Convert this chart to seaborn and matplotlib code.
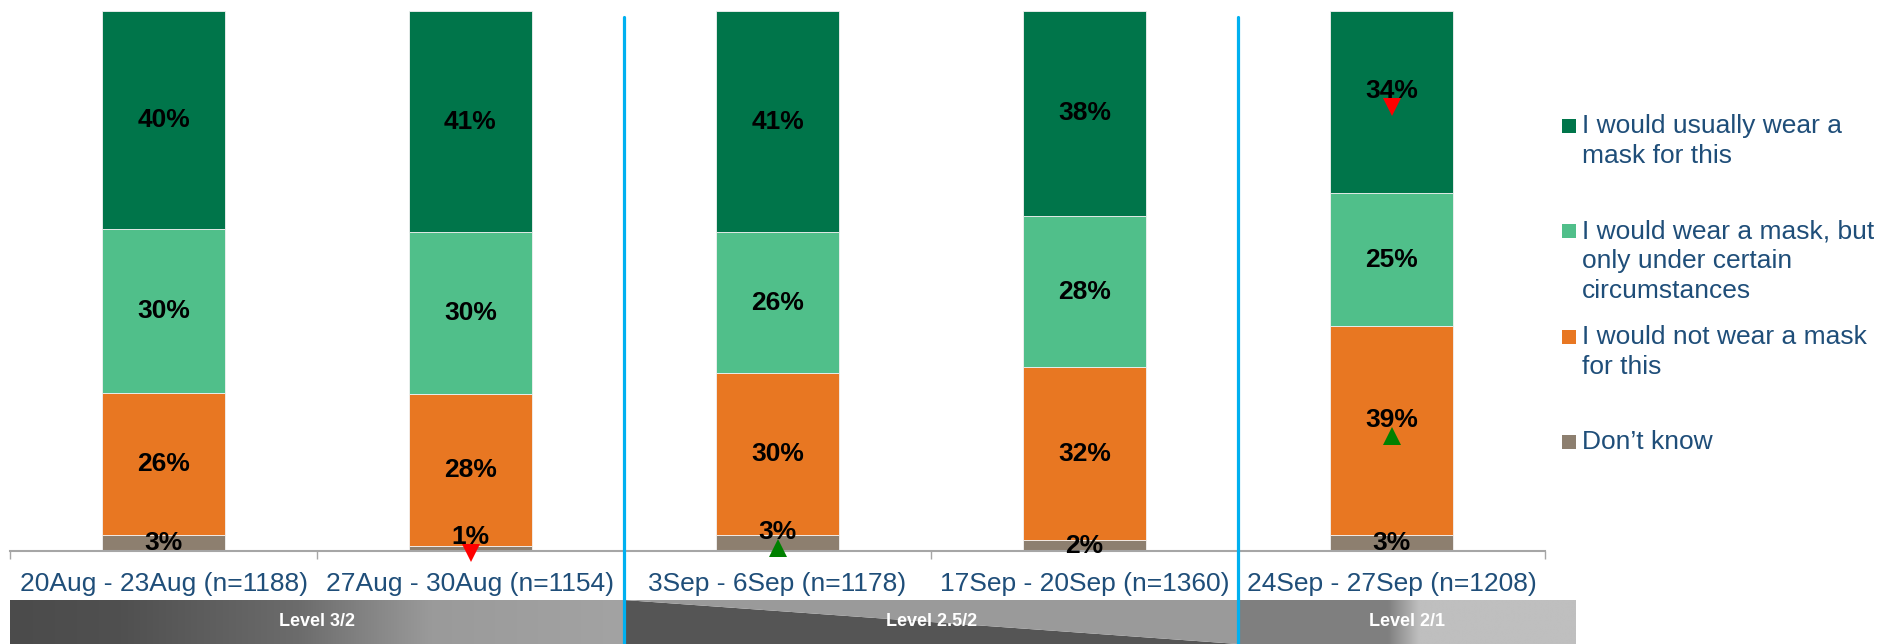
import numpy as np
import pandas as pd
import matplotlib
matplotlib.use("Agg")
import matplotlib.pyplot as plt
import seaborn as sns
from matplotlib.patches import Polygon, Rectangle
from matplotlib.lines import Line2D
from matplotlib import transforms
from matplotlib.colors import to_rgb

# ---- data -------------------------------------------------------------
periods = [
    "20Aug - 23Aug (n=1188)",
    "27Aug - 30Aug (n=1154)",
    "3Sep - 6Sep (n=1178)",
    "17Sep - 20Sep (n=1360)",
    "24Sep - 27Sep (n=1208)",
]
usually = [40, 41, 41, 38, 34]
certain = [30, 30, 26, 28, 25]
not_wear = [26, 28, 30, 32, 39]
dont_know = [3, 1, 3, 2, 3]

responses = [
    "I would usually wear a\nmask for this",
    "I would wear a mask, but\nonly under certain\ncircumstances",
    "I would not wear a mask\nfor this",
    "Don\u2019t know",
]

# significant change vs previous wave
usually_sig = [None, None, None, None, "down"]
certain_sig = [None, None, None, None, None]
not_wear_sig = [None, None, None, None, "up"]
dont_know_sig = [None, "down", "up", None, None]

levels = ["Level 3/2", "Level 2.5/2", "Level 2/1"]

# ---- style --------------------------------------------------------------
colors = ["#00754A", "#50BF8A", "#E87722", "#8D7F6F"]
text_blue = "#1F4E79"
W, H, DPI = 1883, 644, 100

sns.set_theme(style="white")
plt.rcParams["font.family"] = ["Liberation Sans", "DejaVu Sans"]

fig = plt.figure(figsize=(W / DPI, H / DPI), dpi=DPI)
ax = fig.add_axes([10 / W, (H - 551) / H, (1545 - 10) / W, (551 - 10.8) / H])

series = [usually, certain, not_wear, dont_know]
sigs = [usually_sig, certain_sig, not_wear_sig, dont_know_sig]
totals = np.sum(np.array(series, dtype=float), axis=0)
shares = [np.array(s, dtype=float) / totals * 100 for s in series]

label_up = transforms.offset_copy(ax.transData, fig=fig, y=11, units="dots")
marker_down = transforms.offset_copy(ax.transData, fig=fig, y=-5, units="dots")

bottom = np.zeros(len(periods))
for i in [3, 2, 1, 0]:  # stack from "Don't know" upwards
    df = pd.DataFrame({"period": periods, "share": shares[i]})
    sns.barplot(data=df, x="period", y="share", order=periods, color=colors[i],
                saturation=1, width=0.4, bottom=bottom, errorbar=None,
                edgecolor="#F2F2F2", linewidth=0.6, ax=ax)
    mids = bottom + shares[i] / 2
    for j, (val, mid) in enumerate(zip(series[i], mids)):
        sig = sigs[i][j]
        tr = label_up if sig else ax.transData
        ax.text(j, mid, f"{val}%", transform=tr, ha="center", va="center",
                fontsize=19, fontweight="bold", color="black", zorder=5,
                clip_on=False)
        if sig:
            ax.plot(j, mid, marker="v" if sig == "down" else "^",
                    color="#FF0000" if sig == "down" else "#008000",
                    ms=12.5, mew=0, transform=marker_down, clip_on=False,
                    zorder=6)
    bottom = bottom + shares[i]

ax.set_xlim(-0.5, len(periods) - 0.5)
ax.set_ylim(0, 100)
ax.set_xlabel("")
ax.set_ylabel("")
ax.set_yticks([])
sns.despine(ax=ax, left=True)
ax.spines["bottom"].set_color("#A6A6A6")
ax.spines["bottom"].set_linewidth(1.5)
ax.set_xticks(np.arange(-0.5, len(periods)), minor=True)
ax.tick_params(axis="x", which="minor", length=6, width=1, color="#A6A6A6",
               direction="out", bottom=True)
ax.tick_params(axis="x", which="major", length=0, pad=15, labelsize=19,
               labelcolor=text_blue)

# ---- level band -----------------------------------------------------------
band = fig.add_axes([10 / W, 0, 1566 / W, 44 / H])


def gradient(ax_, x0, x1, stops):
    xs = np.linspace(x0, x1, 400)
    pos = [s[0] for s in stops]
    rgb = np.array([to_rgb(s[1]) for s in stops])
    img = np.stack([np.interp(xs, pos, rgb[:, c]) for c in range(3)], axis=-1)
    ax_.imshow(img[None, :, :], extent=(x0, x1, 0, 1), aspect="auto",
               interpolation="bilinear", zorder=1)


gradient(band, -0.5, 1.5, [(-0.5, "#4B4B4B"), (-0.14, "#505050"),
                           (0.44, "#6C6C6C"), (0.87, "#9A9A9A"),
                           (1.5, "#A3A3A3")])
band.add_patch(Polygon([(1.5, 0), (1.5, 1), (3.5, 0)], closed=True,
                       facecolor="#555555", edgecolor="none", zorder=1))
band.add_patch(Polygon([(1.5, 1), (3.5, 1), (3.5, 0)], closed=True,
                       facecolor="#9A9A9A", edgecolor="none", zorder=1))
gradient(band, 3.5, 4.6, [(3.5, "#7F7F7F"), (3.99, "#808080"),
                          (4.09, "#BFBFBF"), (4.6, "#BFBFBF")])
band.set_xlim(-0.5, 4.6)
band.set_ylim(0, 1)
band.axis("off")
for name, xpos in zip(levels, [0.5, 2.5, 4.05]):
    band.text(xpos, 0.5, name, ha="center", va="center", color="white",
              fontsize=13, fontweight="bold", zorder=3)

# ---- level dividers --------------------------------------------------------
blend = transforms.blended_transform_factory(ax.transData, fig.transFigure)
for xb in [1.5, 3.5]:
    fig.add_artist(Line2D([xb, xb], [0, (H - 17) / H], transform=blend,
                          color="#00B0F0", linewidth=2.3, zorder=10))

# ---- legend ---------------------------------------------------------------
for k, (label, col) in enumerate(zip(responses, colors)):
    base = 133 + k * 105.3
    fig.add_artist(Rectangle((1562 / W, 1 - base / H), 14 / W, 14 / H,
                             transform=fig.transFigure, facecolor=col,
                             edgecolor="none"))
    for n, line in enumerate(label.split("\n")):
        fig.text(1582 / W, 1 - (base + 30 * n) / H, line, ha="left",
                 va="baseline", fontsize=19, color=text_blue)

fig.savefig("out.png", dpi=DPI)
